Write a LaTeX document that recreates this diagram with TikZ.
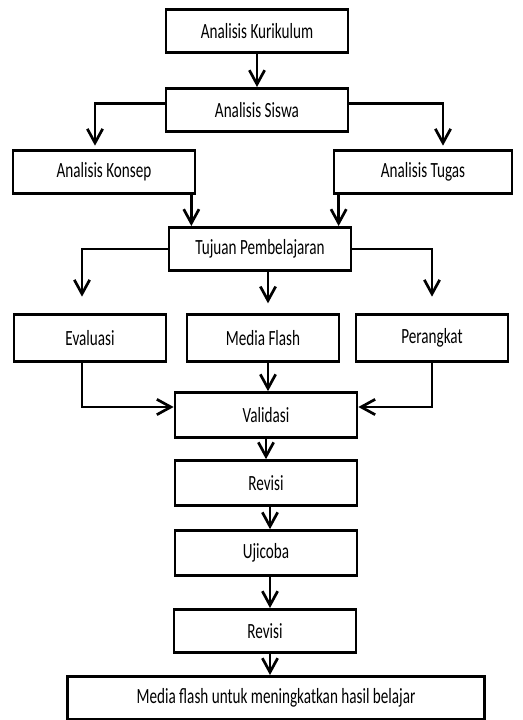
\documentclass[tikz,border=0pt]{standalone}
\usepackage{fontspec}
\setmainfont{Carlito}
\newfontfamily\boxfont[FakeStretch=0.7]{Carlito}
\usetikzlibrary{arrows.meta, positioning}

\begin{document}
\begin{tikzpicture}[
    x=0.03cm, y=-0.03cm,
    box/.style={
        rectangle,
        draw=black,
        line width=2.3pt,
        fill=white,
        minimum width=5.46cm,
        minimum height=1.3cm,
        inner sep=0pt,
        font=\boxfont\fontsize{18.5}{21}\selectfont
    },
    smallbox/.style={
        box,
        minimum width=4.56cm,
        minimum height=1.4cm
    },
    arr/.style={
        draw=black,
        line width=2.3pt,
        -{Straight Barb[length=0.42cm, width=0.46cm, line width=2.3pt]}
    }
]

% Frame
\useasboundingbox (0,0) rectangle (522,720);

% Analysis stage
\node[box] (kurikulum) at (257,31) {Analisis Kurikulum};
\node[box] (siswa) at (257,110) {Analisis Siswa};
\node[box] (konsep) at (104,172) {Analisis Konsep};
\node[box, minimum width=5.34cm] (tugas) at (423,172) {Analisis Tugas};
\node[box] (tujuan) at (260,249) {Tujuan Pembelajaran};

% Design stage
\node[smallbox] (evaluasi) at (90,338) {Evaluasi};
\node[smallbox] (mediaflash) at (263,338) {Media Flash};
\node[smallbox] (perangkat) at (432,338) {Perangkat};

% Development stage
\node[box, minimum height=1.35cm] (validasi) at (266,415) {Validasi};
\node[box, minimum height=1.35cm] (revisi) at (266,483) {Revisi};
\node[box, minimum height=1.35cm] (ujicoba) at (266,553) {Ujicoba};
\node[box] (revisidua) at (265,631) {Revisi};
\node[box, minimum width=12.51cm] (hasil) at (276,698) {Media flash untuk meningkatkan hasil belajar};

% Connectors
\draw[arr] (kurikulum) -- (siswa);
\draw[arr, shorten >=0.1cm] ([yshift=0.2cm]siswa.west) -| ([xshift=-0.27cm]konsep.north);
\draw[arr, shorten >=0.1cm] ([yshift=0.2cm]siswa.east) -| ([xshift=0.6cm]tugas.north);
\draw[arr] ([xshift=-0.15cm]konsep.south east) -- ([xshift=-0.15cm]konsep.south east |- tujuan.north);
\draw[arr] ([xshift=0.18cm]tugas.south west) -- ([xshift=0.18cm]tugas.south west |- tujuan.north);

\draw[arr, shorten >=0.5cm] (tujuan.west) -| ([xshift=-0.24cm]evaluasi.north);
\draw[arr, shorten >=0.3cm] ([xshift=0.24cm]tujuan.south) -- ([xshift=0.24cm]tujuan.south |- mediaflash.north);
\draw[arr, shorten >=0.5cm] (tujuan.east) -| (perangkat.north);

\draw[arr] ([xshift=-0.24cm]evaluasi.south) |- ([yshift=0.24cm]validasi.west);
\draw[arr] ([xshift=0.15cm]mediaflash.south) -- ([xshift=0.15cm]mediaflash.south |- validasi.north);
\draw[arr] (perangkat.south) |- ([yshift=0.24cm]validasi.east);

\draw[arr] (validasi) -- (revisi);
\draw[arr] ([xshift=0.12cm]revisi.south) -- ([xshift=0.12cm]revisi.south |- ujicoba.north);
\draw[arr] ([xshift=0.12cm]ujicoba.south) -- ([xshift=0.12cm]ujicoba.south |- revisidua.north);
\draw[arr] ([xshift=0.15cm]revisidua.south) -- ([xshift=0.15cm]revisidua.south |- hasil.north);

\end{tikzpicture}
\end{document}
